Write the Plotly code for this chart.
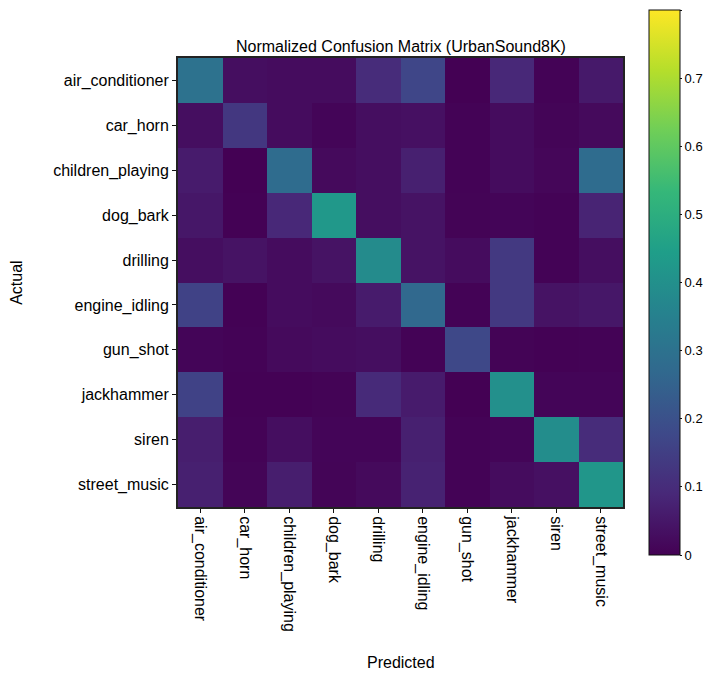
import plotly.graph_objects as go

classes = ["air_conditioner", "car_horn", "children_playing", "dog_bark", "drilling",
           "engine_idling", "gun_shot", "jackhammer", "siren", "street_music"]

row_air_conditioner  = [0.300, 0.030, 0.025, 0.025, 0.100, 0.170, 0.000, 0.090, 0.005, 0.055]
row_car_horn         = [0.030, 0.130, 0.025, 0.010, 0.030, 0.035, 0.005, 0.025, 0.008, 0.020]
row_children_playing = [0.060, 0.000, 0.280, 0.020, 0.030, 0.070, 0.005, 0.025, 0.012, 0.280]
row_dog_bark         = [0.050, 0.003, 0.090, 0.425, 0.030, 0.040, 0.006, 0.010, 0.005, 0.080]
row_drilling         = [0.030, 0.040, 0.025, 0.040, 0.385, 0.040, 0.025, 0.135, 0.005, 0.030]
row_engine_idling    = [0.160, 0.003, 0.025, 0.020, 0.060, 0.270, 0.005, 0.135, 0.040, 0.050]
row_gun_shot         = [0.010, 0.004, 0.020, 0.025, 0.030, 0.005, 0.175, 0.006, 0.003, 0.004]
row_jackhammer       = [0.160, 0.003, 0.002, 0.006, 0.095, 0.060, 0.000, 0.400, 0.010, 0.010]
row_siren            = [0.065, 0.004, 0.030, 0.010, 0.010, 0.070, 0.005, 0.010, 0.390, 0.100]
row_street_music     = [0.070, 0.008, 0.065, 0.008, 0.020, 0.075, 0.004, 0.025, 0.035, 0.420]

matrix = [row_air_conditioner, row_car_horn, row_children_playing, row_dog_bark, row_drilling,
          row_engine_idling, row_gun_shot, row_jackhammer, row_siren, row_street_music]

colorbar_ticks = [0, 0.1, 0.2, 0.3, 0.4, 0.5, 0.6, 0.7, 0.8]

title_text = "Normalized Confusion Matrix (UrbanSound8K)"
x_title = "Predicted"
y_title = "Actual"

FONT = "Liberation Sans, Arial, sans-serif"

fig = go.Figure(go.Heatmap(
    z=matrix, x=classes, y=classes,
    colorscale="Viridis", zmin=0, zmax=0.8,
    colorbar=dict(
        x=1.058, xanchor="left", xpad=0, y=0.5, yanchor="middle", ypad=0,
        lenmode="pixels", len=545, thickness=31,
        outlinecolor="#111", outlinewidth=1,
        tickvals=colorbar_ticks, ticks="outside", ticklen=2, tickcolor="#111",
        tickfont=dict(family=FONT, size=13, color="black"),
    ),
))

fig.update_layout(
    width=711, height=682,
    margin=dict(l=170, r=96, t=50, b=183, autoexpand=False),
    paper_bgcolor="white", plot_bgcolor="white",
    font=dict(family=FONT, size=16, color="black"),
    annotations=[
        dict(text=title_text, xref="paper", yref="paper", x=0.5, y=1.0245,
             xanchor="center", yanchor="middle", showarrow=False,
             font=dict(family=FONT, size=16, color="black")),
        dict(text=x_title, xref="paper", yref="paper", x=0.5, y=-0.347,
             xanchor="center", yanchor="middle", showarrow=False,
             font=dict(family=FONT, size=16, color="black")),
        dict(text=y_title, xref="paper", yref="paper", x=-0.362, y=0.499,
             xanchor="center", yanchor="middle", textangle=-90, showarrow=False,
             font=dict(family=FONT, size=16, color="black")),
    ],
)
fig.update_xaxes(
    tickangle=90, ticks="outside", ticklen=4, tickcolor="#111",
    showline=True, linecolor="#222", linewidth=2, mirror=True,
    showgrid=False, zeroline=False, automargin=False,
    tickfont=dict(family=FONT, size=16, color="black"),
)
fig.update_yaxes(
    autorange="reversed", ticks="outside", ticklen=4, tickcolor="#111",
    showline=True, linecolor="#222", linewidth=2, mirror=True,
    showgrid=False, zeroline=False, automargin=False,
    tickfont=dict(family=FONT, size=16, color="black"),
)

fig.write_html("out.html")
